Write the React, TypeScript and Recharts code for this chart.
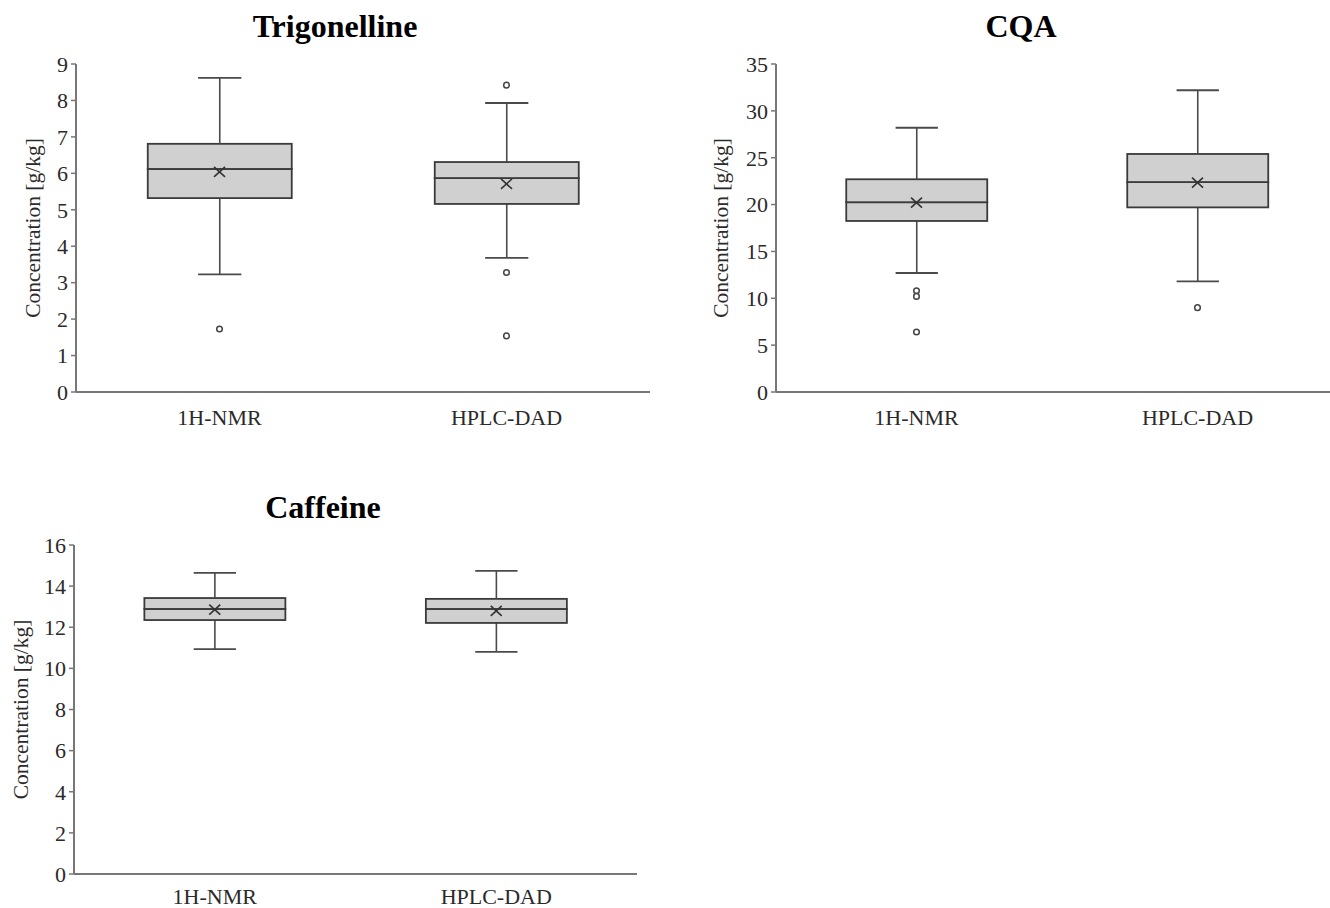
import React from 'react';
import { ComposedChart, Bar, Scatter, XAxis, YAxis } from 'recharts';

const categories = ['1H-NMR', 'HPLC-DAD'];

// Trigonelline
const trigMin = [3.23, 3.68];
const trigQ1 = [5.32, 5.16];
const trigMedian = [6.12, 5.87];
const trigQ3 = [6.81, 6.31];
const trigMax = [8.62, 7.93];
const trigMean = [6.04, 5.71];
const trigOutliers = [[1.73], [8.42, 3.28, 1.54]];
const trigTicks = [0, 1, 2, 3, 4, 5, 6, 7, 8, 9];

// CQA
const cqaMin = [12.7, 11.8];
const cqaQ1 = [18.25, 19.7];
const cqaMedian = [20.25, 22.4];
const cqaQ3 = [22.7, 25.4];
const cqaMax = [28.2, 32.2];
const cqaMean = [20.2, 22.35];
const cqaOutliers = [[10.8, 10.2, 6.4], [9.0]];
const cqaTicks = [0, 5, 10, 15, 20, 25, 30, 35];

// Caffeine
const cafMin = [10.94, 10.8];
const cafQ1 = [12.35, 12.21];
const cafMedian = [12.89, 12.89];
const cafQ3 = [13.42, 13.38];
const cafMax = [14.64, 14.74];
const cafMean = [12.86, 12.8];
const cafOutliers: number[][] = [[], []];
const cafTicks = [0, 2, 4, 6, 8, 10, 12, 14, 16];

const FONT = 'Liberation Serif';
const LINE = '#4a4a4a';
const BOX_STROKE = '#3a3a3a';
const BOX_FILL = '#d0d0d0';
const AXIS = '#777777';
const TEXT = '#2a2a2a';

function buildRows(min: number[], q1: number[], med: number[], q3: number[], max: number[], mean: number[]) {
  return categories.map((name, i) => ({
    name,
    base: min[i],
    lowWhisker: q1[i] - min[i],
    lowerBox: med[i] - q1[i],
    upperBox: q3[i] - med[i],
    highWhisker: max[i] - q3[i],
    mean: mean[i],
  }));
}

function buildOutliers(outliers: number[][]) {
  return categories.flatMap((name, i) => outliers[i].map((v) => ({ name, value: v })));
}

const LowWhisker = (props: any) => {
  const { x, y, width, height } = props;
  const cx = x + width / 2;
  const cap = width * 0.3;
  return (
    <g>
      <line x1={cx} x2={cx} y1={y} y2={y + height} stroke={LINE} strokeWidth={1.6} />
      <line x1={cx - cap / 2} x2={cx + cap / 2} y1={y + height} y2={y + height} stroke={LINE} strokeWidth={1.8} />
    </g>
  );
};

const HighWhisker = (props: any) => {
  const { x, y, width, height } = props;
  const cx = x + width / 2;
  const cap = width * 0.3;
  return (
    <g>
      <line x1={cx} x2={cx} y1={y} y2={y + height} stroke={LINE} strokeWidth={1.6} />
      <line x1={cx - cap / 2} x2={cx + cap / 2} y1={y} y2={y} stroke={LINE} strokeWidth={1.8} />
    </g>
  );
};

const BoxShape = (props: any) => {
  const { x, y, width, height } = props;
  return <rect x={x} y={y} width={width} height={height} fill={BOX_FILL} stroke={BOX_STROKE} strokeWidth={1.8} />;
};

const MeanShape = (props: any) => {
  const { cx, cy } = props;
  const w = 5.5;
  const h = 5;
  return (
    <g>
      <line x1={cx - w} y1={cy - h} x2={cx + w} y2={cy + h} stroke="#333" strokeWidth={1.6} />
      <line x1={cx - w} y1={cy + h} x2={cx + w} y2={cy - h} stroke="#333" strokeWidth={1.6} />
    </g>
  );
};

const OutlierShape = (props: any) => {
  const { cx, cy } = props;
  return <circle cx={cx} cy={cy} r={2.8} fill="#ffffff" stroke="#444" strokeWidth={1.5} />;
};

type PanelProps = {
  left: number;
  top: number;
  width: number;
  height: number;
  margin: { top: number; right: number; bottom: number; left: number };
  yWidth: number;
  xHeight: number;
  xTickMargin: number;
  labelOffset: number;
  ticks: number[];
  rows: any[];
  outliers: { name: string; value: number }[];
};

function Panel(p: PanelProps) {
  const max = p.ticks[p.ticks.length - 1];
  return (
    <div style={{ position: 'absolute', left: p.left, top: p.top }}>
      <ComposedChart width={p.width} height={p.height} data={p.rows} margin={p.margin} barCategoryGap="25%">
        <XAxis
          dataKey="name"
          type="category"
          allowDuplicatedCategory={false}
          tickLine={false}
          height={p.xHeight}
          tickMargin={p.xTickMargin}
          axisLine={{ stroke: AXIS, strokeWidth: 2 }}
          tick={{ fontSize: 22, fill: TEXT, fontFamily: FONT }}
        />
        <YAxis
          type="number"
          domain={[0, max]}
          ticks={p.ticks}
          interval={0}
          width={p.yWidth}
          tickSize={5}
          tickMargin={3}
          axisLine={{ stroke: AXIS, strokeWidth: 2 }}
          tickLine={{ stroke: AXIS, strokeWidth: 1.5 }}
          tick={{ fontSize: 22, fill: TEXT, fontFamily: FONT }}
          label={{
            value: 'Concentration [g/kg]',
            angle: -90,
            position: 'insideLeft',
            offset: p.labelOffset,
            style: { textAnchor: 'middle', fontSize: 21.5, fill: TEXT, fontFamily: FONT },
          }}
        />
        <Bar dataKey="base" stackId="a" fill="transparent" isAnimationActive={false} />
        <Bar dataKey="lowWhisker" stackId="a" shape={LowWhisker} isAnimationActive={false} />
        <Bar dataKey="lowerBox" stackId="a" shape={BoxShape} isAnimationActive={false} />
        <Bar dataKey="upperBox" stackId="a" shape={BoxShape} isAnimationActive={false} />
        <Bar dataKey="highWhisker" stackId="a" shape={HighWhisker} isAnimationActive={false} />
        <Scatter dataKey="mean" shape={MeanShape} isAnimationActive={false} />
        {p.outliers.length > 0 && (
          <Scatter data={p.outliers} dataKey="value" shape={OutlierShape} isAnimationActive={false} />
        )}
      </ComposedChart>
    </div>
  );
}

export default function App() {
  return (
    <div
      style={{
        position: 'absolute',
        left: 0,
        top: 0,
        width: 1330,
        height: 908,
        overflow: 'hidden',
        background: '#ffffff',
        fontFamily: FONT,
      }}
    >
      <Panel
        left={0}
        top={40}
        width={660}
        height={392}
        margin={{ top: 24, right: 10, bottom: 0, left: 0 }}
        yWidth={76}
        xHeight={40}
        xTickMargin={11}
        labelOffset={32}
        ticks={trigTicks}
        rows={buildRows(trigMin, trigQ1, trigMedian, trigQ3, trigMax, trigMean)}
        outliers={buildOutliers(trigOutliers)}
      />
      <Panel
        left={690}
        top={40}
        width={650}
        height={392}
        margin={{ top: 24, right: 2, bottom: 0, left: 0 }}
        yWidth={86}
        xHeight={40}
        xTickMargin={11}
        labelOffset={30}
        ticks={cqaTicks}
        rows={buildRows(cqaMin, cqaQ1, cqaMedian, cqaQ3, cqaMax, cqaMean)}
        outliers={buildOutliers(cqaOutliers)}
      />
      <Panel
        left={0}
        top={520}
        width={660}
        height={388}
        margin={{ top: 25, right: 23, bottom: 0, left: 0 }}
        yWidth={74}
        xHeight={34}
        xTickMargin={8}
        labelOffset={20}
        ticks={cafTicks}
        rows={buildRows(cafMin, cafQ1, cafMedian, cafQ3, cafMax, cafMean)}
        outliers={buildOutliers(cafOutliers)}
      />
      <svg width={1330} height={908} style={{ position: 'absolute', left: 0, top: 0, pointerEvents: 'none' }}>
        <text x={335} y={37} textAnchor="middle" fontFamily={FONT} fontWeight="bold" fontSize={32} fill="#000">
          Trigonelline
        </text>
        <text x={1021} y={37} textAnchor="middle" fontFamily={FONT} fontWeight="bold" fontSize={32} fill="#000">
          CQA
        </text>
        <text x={323} y={518} textAnchor="middle" fontFamily={FONT} fontWeight="bold" fontSize={32} fill="#000">
          Caffeine
        </text>
      </svg>
    </div>
  );
}
